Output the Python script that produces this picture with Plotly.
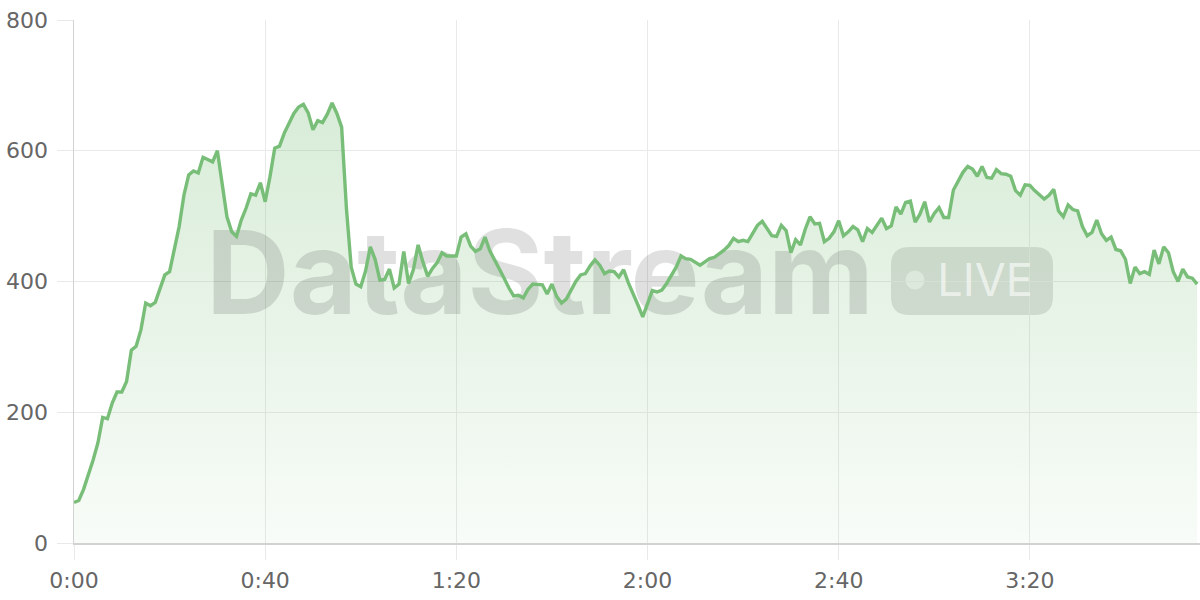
import plotly.graph_objects as go

# ---------------- data ----------------
seconds = list(range(236))
values = [
    62, 65, 82, 104, 127, 153, 192, 190, 214, 231,
    231, 247, 295, 301, 326, 367, 363, 368, 390, 410,
    415, 448, 484, 532, 563, 569, 566, 590, 586, 583,
    600, 545, 499, 476, 469, 494, 512, 534, 532, 551,
    522, 560, 604, 607, 627, 642, 657, 667, 671, 658,
    632, 646, 643, 656, 673, 657, 636, 512, 422, 396,
    392, 416, 453, 434, 402, 403, 419, 390, 396, 446,
    397, 418, 456, 430, 408, 420, 429, 444, 439, 439,
    439, 468, 473, 454, 446, 450, 468, 447, 432, 419,
    405, 390, 378, 379, 375, 388, 396, 395, 395, 381,
    396, 377, 367, 373, 387, 400, 410, 412, 424, 433,
    425, 412, 416, 415, 407, 418, 398, 382, 364, 346,
    368, 386, 384, 387, 397, 410, 422, 439, 435, 434,
    429, 425, 430, 435, 437, 442, 448, 455, 466, 461,
    463, 461, 474, 486, 492, 480, 470, 469, 486, 478,
    444, 464, 456, 480, 499, 488, 489, 461, 466, 476,
    493, 470, 476, 484, 479, 461, 481, 475, 485, 497,
    481, 485, 514, 503, 521, 523, 491, 503, 522, 491,
    504, 513, 498, 498, 540, 554, 567, 576, 572, 561,
    576, 559, 558, 571, 565, 564, 561, 539, 532, 548,
    547, 539, 532, 526, 532, 541, 508, 499, 517, 510,
    508, 484, 470, 475, 494, 473, 463, 468, 449, 447,
    434, 397, 422, 412, 415, 411, 448, 427, 453, 444,
    415, 400, 419, 407, 405, 396,
]
x_tick_vals = [0, 40, 80, 120, 160, 200]
x_tick_text = ["0:00", "0:40", "1:20", "2:00", "2:40", "3:20"]
y_tick_vals = [0, 200, 400, 600, 800]
watermark_text = "DataStream"
badge_text = "LIVE"

# ---------------- layout geometry ----------------
W, H = 1200, 600
ML, MR, MT, MB = 74, 0, 20, 57
PW, PH = W - ML - MR, H - MT - MB
X_MAX = 235.6
Y_MAX = 800


def dx(px):
    return (px - ML) / PW * X_MAX


def dy(py):
    return (H - MB - py) / PH * Y_MAX


def paper_x(px):
    return (px - ML) / PW


def paper_y(py):
    return (H - MB - py) / PH


LINE = "rgb(120,190,120)"
GRID = "#e9e9e9"
AXIS = "#d2d2d2"
TICKFONT = dict(family="DejaVu Sans, sans-serif", size=22, color="#666666")

fig = go.Figure()

# fill area (gradient)
fig.add_trace(go.Scatter(
    x=seconds, y=values, mode="lines", line=dict(width=0, color=LINE),
    fill="tozeroy",
    fillgradient=dict(type="vertical", start=0, stop=700,
                      colorscale=[[0, "rgba(120,190,120,0.05)"],
                                  [1, "rgba(120,190,120,0.30)"]]),
    hoverinfo="skip", showlegend=False,
))

# watermark text (below line)
fig.add_trace(go.Scatter(
    x=[dx(540)], y=[dy(285)], mode="text", text=[watermark_text],
    textposition="middle center",
    textfont=dict(family="Inter, Liberation Sans, sans-serif", size=116,
                  weight=700, color="rgba(0,0,0,0.12)"),
    hoverinfo="skip", showlegend=False,
))
fig.add_trace(go.Scatter(
    x=[dx(985)], y=[dy(285)], mode="text", text=[badge_text],
    textposition="middle center",
    textfont=dict(family="Inter, DejaVu Sans, sans-serif", size=45,
                  weight=400, color="rgba(255,255,255,0.6)"),
    hoverinfo="skip", showlegend=False,
))

# the line
fig.add_trace(go.Scatter(
    x=seconds, y=values, mode="lines",
    line=dict(width=3.4, color=LINE),
    hoverinfo="skip", showlegend=False,
))

# badge rounded rect
bx0, bx1, by0, by1, r = 891, 1053, 247, 315, 18


def P(px, py):
    return f"{paper_x(px):.5f},{paper_y(py):.5f}"


path = (
    f"M {P(bx0 + r, by0)} L {P(bx1 - r, by0)} Q {P(bx1, by0)} {P(bx1, by0 + r)} "
    f"L {P(bx1, by1 - r)} Q {P(bx1, by1)} {P(bx1 - r, by1)} "
    f"L {P(bx0 + r, by1)} Q {P(bx0, by1)} {P(bx0, by1 - r)} "
    f"L {P(bx0, by0 + r)} Q {P(bx0, by0)} {P(bx0 + r, by0)} Z"
)
fig.add_shape(type="path", path=path, xref="paper", yref="paper",
              fillcolor="rgba(0,0,0,0.12)", line=dict(width=0), layer="between")
cx, cy, cr = 915, 280, 9.5
fig.add_shape(type="circle", xref="paper", yref="paper",
              x0=paper_x(cx - cr), x1=paper_x(cx + cr),
              y0=paper_y(cy + cr), y1=paper_y(cy - cr),
              fillcolor="rgba(255,255,255,0.6)", line=dict(width=0), layer="between")

fig.update_layout(
    width=W, height=H,
    margin=dict(l=ML, r=MR, t=MT, b=MB, pad=0),
    paper_bgcolor="white", plot_bgcolor="white",
    hovermode=False,
    xaxis=dict(
        range=[0, X_MAX], tickvals=x_tick_vals, ticktext=x_tick_text,
        showgrid=True, gridcolor=GRID, gridwidth=1,
        ticks="outside", ticklen=15, tickcolor=GRID, tickwidth=1,
        showline=True, linecolor=AXIS, linewidth=1.5,
        zeroline=False, tickfont=TICKFONT, ticklabelstandoff=2,
        automargin=False, fixedrange=True,
    ),
    yaxis=dict(
        range=[0, Y_MAX], tickvals=y_tick_vals,
        showgrid=True, gridcolor=GRID, gridwidth=1,
        ticks="outside", ticklen=16, tickcolor=GRID, tickwidth=1,
        showline=True, linecolor=AXIS, linewidth=1.5,
        zeroline=False, tickfont=TICKFONT, ticklabelstandoff=4,
        automargin=False, fixedrange=True,
    ),
)

fig.write_html(
    "out.html",
    config={"displayModeBar": False, "staticPlot": True},
    post_script="document.body.style.margin='0';document.body.style.overflow='hidden';",
)
